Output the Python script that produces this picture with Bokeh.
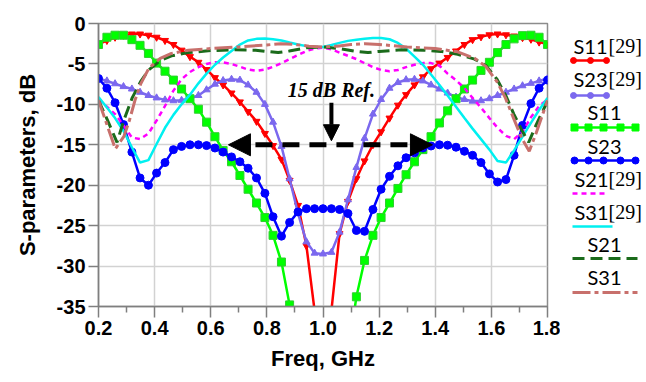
from bokeh.plotting import figure
from bokeh.layouts import row
from bokeh.models import Range1d, FixedTicker, NumeralTickFormatter, Arrow, NormalHead, Label
from bokeh.core.properties import value
from bokeh.embed import file_html
from bokeh.resources import INLINE

# ---------------- data ----------------
FREQ = [0.200, 0.230, 0.259, 0.289, 0.319, 0.348, 0.378, 0.407, 0.437, 0.467,
        0.496, 0.526, 0.556, 0.585, 0.615, 0.644, 0.674, 0.704, 0.733, 0.763,
        0.793, 0.822, 0.852, 0.881, 0.911, 0.941, 0.970, 1.000, 1.030, 1.059,
        1.089, 1.119, 1.148, 1.178, 1.207, 1.237, 1.267, 1.296, 1.326, 1.356,
        1.385, 1.415, 1.444, 1.474, 1.504, 1.533, 1.563, 1.593, 1.622, 1.652,
        1.681, 1.711, 1.741, 1.770, 1.800]

S11_REF = [-2.55, -2.1, -1.7, -1.45, -1.3, -1.3, -1.45, -1.7, -2.1, -2.6,
           -3.3, -4.1, -4.8, -5.7, -6.7, -7.6, -8.6, -9.7, -10.9, -12.1,
           -13.6, -15.1, -16.8, -19.4, -22.5, -27.5, -35.5, -45.0, -35.5, -26.0,
           -22.0, -19.2, -17.0, -15.0, -13.4, -11.7, -10.1, -8.8, -7.6, -6.6,
           -5.6, -4.9, -4.2, -3.4, -2.6, -2.0, -1.65, -1.4, -1.3, -1.4,
           -1.55, -1.75, -1.95, -2.3, -2.55]

S23_REF = [-6.8, -7.1, -7.45, -7.8, -8.1, -8.5, -8.9, -9.2, -9.45, -9.55,
           -9.5, -9.25, -8.9, -8.2, -7.5, -7.05, -6.9, -7.0, -7.6, -8.5,
           -10.0, -12.2, -15.2, -19.2, -23.5, -27.0, -28.4, -28.5, -28.3, -25.8,
           -21.8, -17.8, -14.2, -11.2, -9.4, -8.0, -7.3, -6.95, -6.9, -7.1,
           -7.6, -8.1, -8.6, -9.1, -9.4, -9.6, -9.55, -9.3, -8.9, -8.5,
           -8.1, -7.7, -7.4, -7.1, -6.8]

S11 = [-2.6, -1.7, -1.45, -1.45, -2.0, -2.7, -3.7, -4.9, -5.9, -7.0,
       -8.1, -9.3, -10.6, -12.2, -14.0, -15.7, -17.1, -18.8, -20.5, -22.2,
       -24.0, -26.2, -29.5, -34.8, -41.0, -47.0, -52.0, -54.0, -52.0, -47.0,
       -41.0, -33.8, -29.3, -26.2, -24.0, -22.2, -20.4, -18.7, -17.1, -15.6,
       -14.0, -12.3, -10.8, -9.3, -8.1, -7.0, -5.8, -4.8, -3.6, -2.6,
       -1.9, -1.5, -1.45, -1.7, -2.6]

S23 = [-6.8, -8.0, -9.8, -12.5, -15.9, -19.1, -20.0, -18.5, -17.2, -15.6,
       -15.2, -15.0, -15.0, -15.1, -15.4, -15.9, -16.5, -17.1, -17.9, -19.1,
       -21.0, -23.9, -26.3, -24.6, -23.3, -22.9, -22.9, -22.9, -22.9, -23.0,
       -23.5, -25.6, -25.7, -23.0, -20.5, -18.9, -17.6, -16.6, -16.0, -15.4,
       -15.15, -15.0, -15.05, -15.3, -15.8, -16.3, -17.2, -18.6, -19.6, -19.3,
       -16.3, -12.6, -9.9, -8.0, -7.0]

S21_REF = [-9.4, -10.3, -11.2, -12.6, -14.1, -14.3, -13.6, -12.0, -10.2, -8.3,
           -6.9, -6.0, -5.4, -5.0, -4.8, -4.8, -5.0, -5.35, -5.7, -5.85,
           -5.7, -5.35, -4.9, -4.4, -3.9, -3.4, -3.1, -3.0, -3.2, -3.6,
           -4.0, -4.4, -4.9, -5.4, -5.75, -5.9, -5.75, -5.4, -5.1, -4.9,
           -4.9, -5.2, -6.2, -7.0, -8.0, -9.2, -10.4, -11.7, -12.9, -13.9,
           -14.3, -13.4, -11.6, -10.2, -9.4]

S31_REF = [-9.1, -10.4, -11.7, -13.3, -15.3, -17.2, -16.9, -14.9, -12.9, -11.3,
           -10.0, -8.8, -7.4, -6.2, -5.1, -4.2, -3.4, -2.6, -2.1, -1.9,
           -1.85, -1.95, -2.1, -2.35, -2.6, -2.8, -2.9, -2.9, -2.65, -2.4,
           -2.15, -2.0, -1.9, -1.8, -1.8, -1.95, -2.4, -3.1, -4.1, -5.1,
           -6.3, -7.6, -8.9, -10.3, -11.7, -13.0, -14.3, -15.6, -17.0, -17.2,
           -15.7, -14.0, -12.3, -10.7, -9.2]

S21_FREQ = [0.200, 0.230, 0.266, 0.290, 0.320, 0.350, 0.380, 0.420, 0.460, 0.520,
            0.600, 0.680, 0.760, 0.800, 0.840, 0.880, 0.940, 1.000, 1.060, 1.120,
            1.160, 1.200, 1.280, 1.360, 1.420, 1.480, 1.540, 1.580, 1.620, 1.650,
            1.680, 1.710, 1.733, 1.760, 1.800]
S21 = [-9.5, -11.8, -14.7, -12.0, -9.2, -7.2, -5.7, -4.6, -4.0, -3.6,
       -3.35, -3.25, -3.3, -3.45, -3.6, -3.4, -3.0, -2.9, -3.1, -3.45,
       -3.6, -3.45, -3.25, -3.3, -3.45, -3.8, -4.4, -5.2, -6.9, -8.8,
       -11.2, -13.3, -14.7, -12.5, -9.6]

S31_FREQ = [0.200, 0.230, 0.260, 0.290, 0.310, 0.330, 0.350, 0.380, 0.420, 0.460,
            0.520, 0.600, 0.700, 0.800, 0.850, 0.900, 0.950, 1.000, 1.050, 1.100,
            1.150, 1.200, 1.300, 1.400, 1.480, 1.540, 1.580, 1.620, 1.650, 1.680,
            1.710, 1.735, 1.760, 1.800]
S31 = [-9.5, -12.5, -15.5, -14.0, -12.0, -9.5, -7.5, -5.5, -4.3, -3.7,
       -3.3, -3.1, -2.9, -2.65, -2.5, -2.6, -2.8, -2.9, -2.8, -2.6,
       -2.5, -2.6, -2.9, -3.1, -3.5, -4.3, -5.3, -7.2, -9.2, -11.8,
       -14.3, -15.8, -13.5, -9.5]

X_TICKS = [0.2, 0.4, 0.6, 0.8, 1.0, 1.2, 1.4, 1.6, 1.8]
X_MINOR = [0.3, 0.5, 0.7, 0.9, 1.1, 1.3, 1.5, 1.7]
Y_TICKS = [-35, -30, -25, -20, -15, -10, -5, 0]

TOP, BOTTOM = 23, 76          # borders of the plotting frame (px)
FIG_H = 382

# ---------------- main plot ----------------
p = figure(width=560, height=FIG_H, x_range=Range1d(0.2, 1.8), y_range=Range1d(-35, 0),
           output_backend="svg", toolbar_location=None,
           min_border_left=98, min_border_right=13, min_border_top=TOP, min_border_bottom=BOTTOM)
p.background_fill_color = "white"
p.border_fill_color = "white"
p.outline_line_color = "#8c8c8c"
p.outline_line_width = 1.5

p.xaxis.ticker = FixedTicker(ticks=X_TICKS, minor_ticks=X_MINOR)
p.yaxis.ticker = FixedTicker(ticks=Y_TICKS)
p.xgrid.ticker = FixedTicker(ticks=X_TICKS)
p.ygrid.ticker = FixedTicker(ticks=Y_TICKS)
p.xaxis.formatter = NumeralTickFormatter(format="0.0")
p.yaxis.formatter = NumeralTickFormatter(format="0")
for g in (p.xgrid, p.ygrid):
    g.grid_line_color = "#d2d2d2"
    g.grid_line_width = 1.5

for ax in (p.xaxis, p.yaxis):
    ax.axis_line_color = "#7f7f7f"
    ax.axis_line_width = 1.5
    ax.major_tick_line_color = "#7f7f7f"
    ax.major_tick_line_width = 1.5
    ax.minor_tick_line_color = "#7f7f7f"
    ax.minor_tick_line_width = 1.5
    ax.major_tick_in = 0
    ax.minor_tick_in = 0
    ax.major_label_text_font = "Liberation Sans"
    ax.major_label_text_font_style = "bold"
    ax.major_label_text_font_size = "20px"
    ax.major_label_text_color = "black"
    ax.axis_label_text_font = "Liberation Sans"
    ax.axis_label_text_font_style = "bold"
    ax.axis_label_text_font_size = "22px"
    ax.axis_label_text_color = "black"

p.xaxis.major_tick_out = 11
p.xaxis.minor_tick_out = 6
p.xaxis.major_label_standoff = 3
p.xaxis.axis_label = "Freq, GHz"
p.xaxis.axis_label_standoff = 8
p.yaxis.major_tick_out = 10
p.yaxis.minor_tick_out = 0
p.yaxis.major_label_standoff = 3
p.yaxis.axis_label = "S-parameters, dB"
p.yaxis.axis_label_standoff = 14

RED = "#ff0000"
PURPLE = "#7b68ee"
GREEN = "#00ff00"
BLUE = "#0000ff"
MAGENTA = "#ff00ff"
CYAN = "#00f0f0"
DKGREEN = "#1b6b1b"
BROWN = "#c8706c"

# S11 [29]
p.line(FREQ, S11_REF, line_color=RED, line_width=2.5)
p.scatter(FREQ, S11_REF, marker="inverted_triangle", size=7, fill_color=RED, line_color=RED)
# S23 [29]
p.line(FREQ, S23_REF, line_color=PURPLE, line_width=2.5)
p.scatter(FREQ, S23_REF, marker="triangle", size=7, fill_color=PURPLE, line_color=PURPLE)
# S11
p.line(FREQ, S11, line_color=GREEN, line_width=2.5)
p.scatter(FREQ, S11, marker="square", size=8, fill_color=GREEN, line_color="#2fcf2f", line_width=1)
# S23
p.line(FREQ, S23, line_color=BLUE, line_width=2.5)
p.scatter(FREQ, S23, marker="circle", size=8, fill_color=BLUE, line_color=BLUE)
# S21 [29]
p.line(FREQ, S21_REF, line_color=MAGENTA, line_width=2.5, line_dash="5 4")
# S31 [29]
p.line(FREQ, S31_REF, line_color=CYAN, line_width=2.5)
# S21
p.line(S21_FREQ, S21, line_color=DKGREEN, line_width=3, line_dash="12 6")
# S31
p.line(S31_FREQ, S31, line_color=BROWN, line_width=3, line_dash="18 4 4 4")

# annotation: 15 dB reference
REF_X = 1.03
p.add_layout(Label(x=REF_X, y=-8.2, text="15 dB Ref.", text_font="Liberation Serif",
                   text_font_style="bold italic", text_font_size="20px", text_color="black",
                   text_align="center", text_baseline="middle"))
p.add_layout(Arrow(end=NormalHead(size=16, fill_color="black", line_color="black", line_width=1),
                   x_start=REF_X, y_start=-9.8, x_end=REF_X, y_end=-14.5,
                   line_color="black", line_width=4))
p.add_layout(Arrow(start=NormalHead(size=22, fill_color="black", line_color="black", line_width=1),
                   end=NormalHead(size=22, fill_color="black", line_color="black", line_width=1),
                   x_start=0.663, y_start=-15, x_end=1.39, y_end=-15,
                   line_color="black", line_width=5, line_dash="17 10"))

# ---------------- legend panel (y in page pixels) ----------------
leg = figure(width=86, height=FIG_H, x_range=Range1d(0, 86),
             y_range=Range1d(FIG_H - BOTTOM, TOP),
             output_backend="svg", toolbar_location=None, x_axis_location=None,
             y_axis_location=None, min_border_left=0, min_border_right=0,
             min_border_top=TOP, min_border_bottom=BOTTOM)
leg.outline_line_color = None
leg.grid.visible = False
leg.background_fill_color = "white"
leg.border_fill_color = "white"

SANS = value("Lato")
SERIF = value("Liberation Serif")
FS = value("20px")

def legend_text(name, x, y, ref):
    leg.text(x=[x], y=[y], text=[name], text_font=SANS, text_font_size=FS,
             text_align="left", text_baseline="middle", text_color="black")
    if ref:
        leg.text(x=[48], y=[y], text=["[29]"], text_font=SERIF, text_font_size=FS,
                 text_align="left", text_baseline="middle", text_color="black")

legend_text("S11", 13, 45, True)
leg.line([12, 48], [60, 60], line_color=RED, line_width=2.5)
leg.scatter([13, 30, 46], [60, 60, 60], marker="circle", size=6, color=RED)

legend_text("S23", 13, 78, True)
leg.line([12, 48], [95, 95], line_color=PURPLE, line_width=2.5)
leg.scatter([13, 30, 46], [95, 95, 95], marker="circle", size=6, color=PURPLE)

legend_text("S11", 27, 111, False)
leg.line([12, 77], [127, 127], line_color=GREEN, line_width=2.5)
leg.scatter([14, 28, 43, 60, 75], [127] * 5, marker="square", size=7, color=GREEN)

legend_text("S23", 27, 145, False)
leg.line([12, 77], [160, 160], line_color=BLUE, line_width=2.5)
leg.scatter([14, 28, 43, 60, 75], [160] * 5, marker="circle", size=7, color=BLUE)

legend_text("S21", 14, 178, True)
leg.line([12, 44], [193, 193], line_color=MAGENTA, line_width=2.5, line_dash="5 4")

legend_text("S31", 14, 211, True)
leg.line([12, 52], [226, 226], line_color=CYAN, line_width=2.5)

legend_text("S21", 27, 243, False)
leg.line([12, 77], [258, 258], line_color=DKGREEN, line_width=3, line_dash="12 6")

legend_text("S31", 27, 276, False)
leg.line([12, 77], [292, 292], line_color=BROWN, line_width=3, line_dash="18 4 4 4")

layout = row(p, leg)
open("out.html", "w").write(file_html(layout, INLINE))
